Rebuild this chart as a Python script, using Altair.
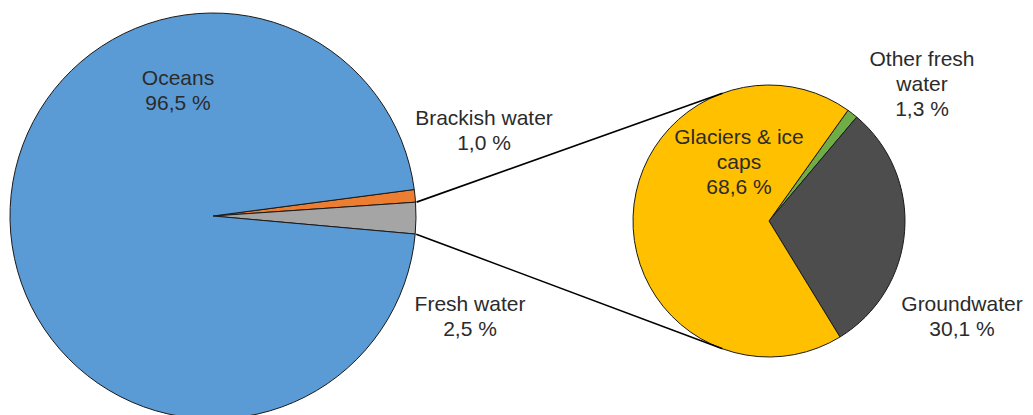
import math
import altair as alt
import pandas as pd

# ---- data ----
main_labels = ["Brackish water", "Fresh water", "Oceans"]
main_values = [1.0, 2.5, 96.5]
fresh_labels = ["Other fresh water", "Groundwater", "Glaciers & ice caps"]
fresh_values = [1.3, 30.1, 68.6]

all_labels = main_labels + fresh_labels
all_colors = ["#ED7D31", "#A5A5A5", "#5B9BD5", "#70AD47", "#4D4D4D", "#FFC000"]

# ---- layout constants ----
W, H = 1033, 415
CX1, CY1, R1 = 213, 216, 203
CX2, CY2, R2 = 769, 221, 136
START1 = math.radians(82.5)
START2 = math.radians(35.5)
FONT = "Liberation Sans"
FS = 21
LH = 25
TXT = "#2b2b2b"

color_scale = alt.Scale(domain=all_labels, range=all_colors)

main_df = pd.DataFrame({"label": main_labels, "value": main_values,
                        "ord": list(range(len(main_labels)))})
fresh_df = pd.DataFrame({"label": fresh_labels, "value": fresh_values,
                         "ord": list(range(len(fresh_labels)))})

left = alt.Chart(main_df).mark_arc(radius=R1, stroke="#1a1a1a", strokeWidth=1).encode(
    theta=alt.Theta("value:Q", stack=True,
                    scale=alt.Scale(range=[START1, START1 + 2 * math.pi])),
    color=alt.Color("label:N", scale=color_scale, legend=None),
    order=alt.Order("ord:Q"),
    x=alt.value(CX1), y=alt.value(CY1),
)

right = alt.Chart(fresh_df).mark_arc(radius=R2, stroke="#1a1a1a", strokeWidth=1).encode(
    theta=alt.Theta("value:Q", stack=True,
                    scale=alt.Scale(range=[START2, START2 + 2 * math.pi])),
    color=alt.Color("label:N", scale=color_scale, legend=None),
    order=alt.Order("ord:Q"),
    x=alt.value(CX2), y=alt.value(CY2),
)

# connector lines: from the fresh-water slice edges to the secondary pie
tot = sum(main_values)
a_top = START1 + 2 * math.pi * main_values[0] / tot
a_bot = START1 + 2 * math.pi * (main_values[0] + main_values[1]) / tot
r_edge = R1 + 1
p1 = (CX1 + r_edge * math.sin(a_top), CY1 - r_edge * math.cos(a_top))
p2 = (CX1 + r_edge * math.sin(a_bot), CY1 - r_edge * math.cos(a_bot))
b_top = math.radians(340)
b_bot = math.radians(200)
q1 = (CX2 + R2 * math.sin(b_top), CY2 - R2 * math.cos(b_top))
q2 = (CX2 + R2 * math.sin(b_bot), CY2 - R2 * math.cos(b_bot))

def rule(a, b):
    return alt.Chart(main_df.head(1)).mark_rule(color="#000000", strokeWidth=1.6).encode(
        x=alt.value(a[0]), y=alt.value(a[1]), x2=alt.value(b[0]), y2=alt.value(b[1])
    )

def fmt(v):
    return f"{v:.1f}".replace(".", ",") + " %"

# label texts
label_lines = {
    "Oceans": ["Oceans", fmt(main_values[2])],
    "Brackish water": ["Brackish water", fmt(main_values[0])],
    "Fresh water": ["Fresh water", fmt(main_values[1])],
    "Other fresh water": ["Other fresh", "water", fmt(fresh_values[0])],
    "Groundwater": ["Groundwater", fmt(fresh_values[1])],
    "Glaciers & ice caps": ["Glaciers & ice", "caps", fmt(fresh_values[2])],
}
# first-line centres of label blocks (layout)
label_pos = {
    "Oceans": (178, 79),
    "Brackish water": (484, 119),
    "Fresh water": (470, 305),
    "Other fresh water": (922, 60),
    "Groundwater": (962, 305),
    "Glaciers & ice caps": (739, 138),
}

texts = []
for key, lines in label_lines.items():
    x, y = label_pos[key]
    texts.append(
        alt.Chart(main_df.head(1)).mark_text(
            text="\n".join(lines), lineBreak="\n", font=FONT, fontSize=FS,
            lineHeight=LH, align="center", baseline="middle", color=TXT,
        ).encode(x=alt.value(x), y=alt.value(y))
    )

chart = alt.layer(left, right, rule(p1, q1), rule(p2, q2), *texts).resolve_scale(
    theta="independent"
).properties(
    width=W, height=H, padding=0, autosize=alt.AutoSizeParams(type="none"),
    background="white",
).configure_view(stroke=None)

chart.save("out.html", embed_options={"renderer": "svg", "actions": False})
